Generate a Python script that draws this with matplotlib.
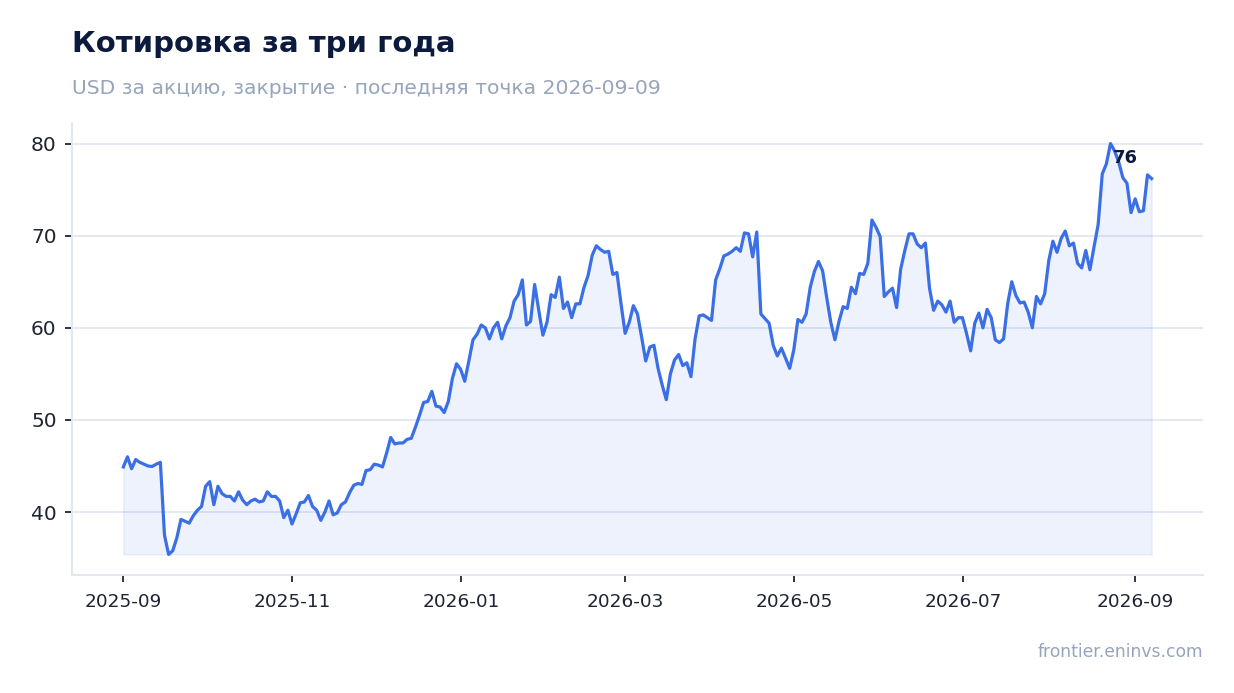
import matplotlib
matplotlib.use("Agg")
import matplotlib.pyplot as plt
import matplotlib.dates as mdates
import numpy as np
import pandas as pd

# данные: цена закрытия, USD за акцию (равномерный шаг между первой и последней датой)
start_date = "2025-09-01"
end_date = "2026-09-07"
prices = [
    44.9, 46.0, 44.7, 45.7, 45.4, 45.2, 45.0, 44.95, 45.2, 45.4,
    37.5, 35.4, 35.8, 37.2, 39.2, 39.0, 38.8, 39.6, 40.2, 40.6,
    42.8, 43.3, 40.8, 42.8, 42.0, 41.7, 41.7, 41.2, 42.2, 41.3,
    40.8, 41.2, 41.4, 41.1, 41.2, 42.2, 41.7, 41.7, 41.2, 39.4,
    40.2, 38.7, 39.8,
    41.0, 41.1, 41.8, 40.6, 40.2, 39.1, 40.0, 41.2, 39.7, 39.9,
    40.8, 41.1, 42.1, 42.9, 43.1, 43.0, 44.5, 44.6, 45.2, 45.1,
    44.9, 46.4, 48.1, 47.4, 47.5, 47.5, 47.9, 48.0, 49.2, 50.5,
    51.9, 52.0, 53.1, 51.5, 51.4, 50.8, 52.0, 54.5, 56.1, 55.5,
    54.2, 56.4, 58.7, 59.3, 60.3, 60.0, 58.8, 60.0, 60.6, 58.8,
    60.2, 61.1, 62.9, 63.6, 65.2, 60.3, 60.7, 64.7, 61.9, 59.2,
    60.6, 63.6, 63.3, 65.5, 62.1, 62.8, 61.1, 62.6, 62.6, 64.4,
    65.7, 67.9, 68.9, 68.5, 68.2, 68.3, 65.8, 66.0, 62.6, 59.4,
    60.6, 62.4, 61.5, 59.0, 56.4, 57.9, 58.1, 55.6, 53.8, 52.2,
    55.0, 56.5, 57.1, 55.9, 56.2, 54.7, 58.8, 61.3, 61.4, 61.1,
    60.8, 65.2, 66.4, 67.8, 68.0, 68.3, 68.7, 68.3, 70.3, 70.2,
    67.7, 70.4, 61.5, 61.0, 60.5, 58.1, 56.95, 57.8, 56.7, 55.6,
    57.6, 60.9, 60.6, 61.5, 64.4, 66.1, 67.2, 66.2, 63.3, 60.6,
    58.7, 60.7, 62.3, 62.1, 64.4, 63.7, 65.9, 65.8, 67.0, 71.7,
    70.9, 69.9, 63.4, 63.9, 64.3, 62.2, 66.4, 68.4, 70.2, 70.2,
    69.1, 68.7, 69.2, 64.3, 61.9, 62.9, 62.5, 61.7, 62.9, 60.6,
    61.1, 61.1, 59.4, 57.5, 60.5, 61.6, 60.0, 62.0, 61.1, 58.7,
    58.4, 58.8, 62.6, 65.0, 63.5, 62.7, 62.8, 61.7, 60.0, 63.4,
    62.6, 63.7, 67.3, 69.4, 68.2, 69.7, 70.5, 68.9, 69.2, 67.0,
    66.5, 68.4, 66.3, 68.8, 71.2, 76.7, 77.8, 80.0, 79.2, 78.0,
    76.3, 75.7, 72.5, 74.0, 72.6, 72.7, 76.6, 76.2,
]

title = "Котировка за три года"
subtitle = "USD за акцию, закрытие · последняя точка 2026-09-09"
source = "frontier.eninvs.com"

LINE = "#3b6fe6"
NAVY = "#0c1a3e"
MUTED = "#97a5bb"
GRID = "#e3e8f0"
TICK = "#1f2433"

dates = pd.date_range(start_date, end_date, periods=len(prices))
values = np.array(prices)

fig = plt.figure(figsize=(12.34, 6.93), dpi=100)
ax = fig.add_axes([0.0583, 0.1703, 0.9166, 0.6522])

ax.plot(dates, values, color=LINE, linewidth=2.3, zorder=3)
ax.fill_between(dates, values, values.min(), color=LINE, alpha=0.09, zorder=2)

last = values[-1]
ax.annotate(
    f"{last:.0f}",
    xy=(dates[-1], last),
    xytext=(-14, 12),
    textcoords="offset pixels",
    ha="right",
    va="bottom",
    fontsize=13,
    fontweight="bold",
    color=NAVY,
    zorder=4,
)

ax.set_yticks([40, 50, 60, 70, 80])
ax.xaxis.set_major_locator(mdates.MonthLocator(bymonth=[1, 3, 5, 7, 9, 11]))
ax.xaxis.set_major_formatter(mdates.DateFormatter("%Y-%m"))

ax.grid(axis="y", color=GRID, linewidth=1.3)
ax.set_axisbelow(True)
for side in ("top", "right"):
    ax.spines[side].set_visible(False)
for side in ("left", "bottom"):
    ax.spines[side].set_color(GRID)
    ax.spines[side].set_linewidth(1.5)
ax.tick_params(axis="both", colors=TICK, length=5, width=1.3)
ax.tick_params(axis="x", labelsize=13.3, pad=8)
ax.tick_params(axis="y", labelsize=14.5, pad=6)

fig.text(0.0583, 0.936, title, fontsize=21, fontweight="bold", color=NAVY, va="center")
fig.text(0.0583, 0.873, subtitle, fontsize=14.6, color=MUTED, va="center")
fig.text(0.9749, 0.059, source, fontsize=12.3, color=MUTED, ha="right", va="center")

fig.savefig("out.png", dpi=100)
